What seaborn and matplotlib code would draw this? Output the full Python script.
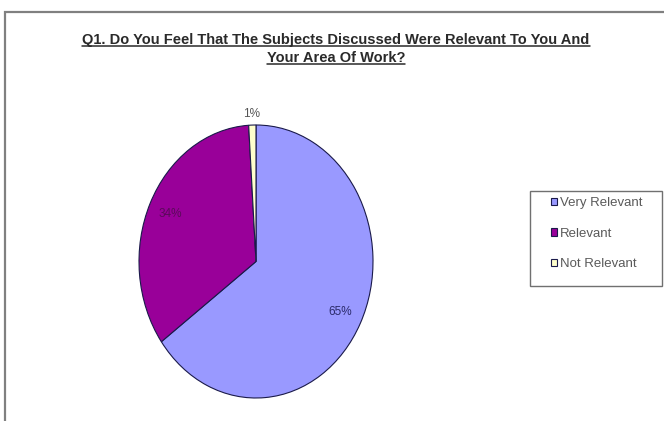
import matplotlib
matplotlib.use("Agg")
import matplotlib.pyplot as plt
from matplotlib.lines import Line2D
from matplotlib.patches import Rectangle
import seaborn as sns

categories = ["Very Relevant", "Relevant", "Not Relevant"]
shares = [65, 34, 1]
title_lines = ["Q1. Do You Feel That The Subjects Discussed Were Relevant To You And",
               "Your Area Of Work?"]

sns.set_theme(style="white")
plt.rcParams["font.family"] = ["Liberation Sans", "DejaVu Sans"]
colors = ["#9999FF", "#990099", "#FFFFCC"]
label_colors = ["#2a2a6a", "#5a0a5a", "#555555"]

W, H = 664, 421
fig = plt.figure(figsize=(W / 100, H / 100), dpi=100)
fig.patch.set_facecolor("white")


def fx(px):
    return px / W


def fy(py):
    return 1 - py / H


# outer chart frame
fig.patches.append(Rectangle((fx(5), -0.05), 1.0, fy(12) + 0.05,
                             transform=fig.transFigure, fill=False,
                             edgecolor="#808080", linewidth=1.6))

# elliptical pie
cx, cy, rx, ry = 256, 261.5, 117, 136.5
ax = fig.add_axes([fx(cx - rx), fy(cy + ry), 2 * rx / W, 2 * ry / H])
wedges, texts, autotexts = ax.pie(
    shares, colors=colors, startangle=90, counterclock=False,
    autopct="%d%%", pctdistance=0.81,
    wedgeprops=dict(edgecolor="#1a1a4a", linewidth=0.8),
    textprops=dict(fontsize=8.5))
ax.set_aspect("auto")
ax.set_xlim(-1, 1)
ax.set_ylim(-1, 1)
ax.axis("off")
for t, c in zip(autotexts, label_colors):
    t.set_color(c)
    t.set_clip_on(False)
# small slice label sits just outside the rim
x, y = autotexts[2].get_position()
autotexts[2].set_position((x * 1.08 / 0.81, y * 1.08 / 0.81))

# legend box and entries
fig.patches.append(Rectangle((fx(530), fy(286)), (662 - 530) / W, (286 - 191) / H,
                             transform=fig.transFigure, facecolor="white",
                             edgecolor="#707070", linewidth=1.0, zorder=2))
leg = fig.legend(wedges, categories, loc="upper left",
                 bbox_to_anchor=(fx(551), fy(197)),
                 fontsize=9.5, frameon=False,
                 handlelength=0.45, handleheight=0.45, handletextpad=0.25,
                 labelspacing=1.42, borderpad=0, borderaxespad=0)
leg.set_zorder(3)
for t in leg.get_texts():
    t.set_color("#5a5a5a")

# underlined two-line title
ys = [40, 58]
txts = [fig.text(fx(336), fy(yy), s, ha="center", va="center",
                 fontsize=10.5, fontweight="bold", color="#2a2a2a")
        for s, yy in zip(title_lines, ys)]
fig.canvas.draw()
r = fig.canvas.get_renderer()
for t in txts:
    bb = t.get_window_extent(r).transformed(fig.transFigure.inverted())
    fig.lines.append(Line2D([bb.x0, bb.x1], [bb.y0 + 0.003, bb.y0 + 0.003],
                            transform=fig.transFigure, color="#2a2a2a", linewidth=1.1))

fig.savefig("out.png", dpi=100)
